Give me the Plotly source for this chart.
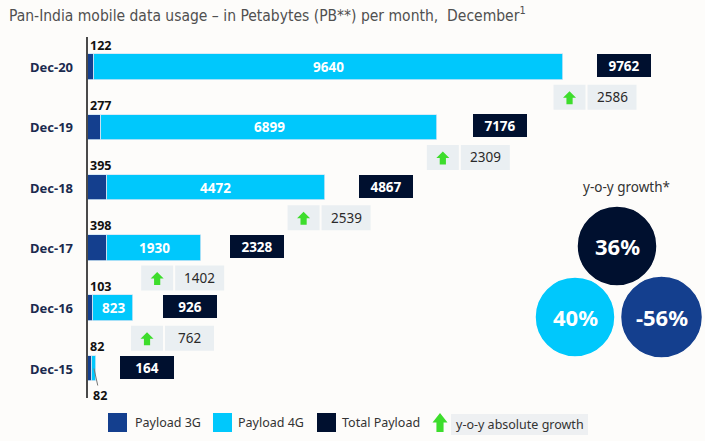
import plotly.graph_objects as go

# ---------------- data ----------------
years = ["Dec-20", "Dec-19", "Dec-18", "Dec-17", "Dec-16", "Dec-15"]
payload_3g = [122, 277, 395, 398, 103, 82]
payload_4g = [9640, 6899, 4472, 1930, 823, 82]
total_payload = [9762, 7176, 4867, 2328, 926, 164]
yoy_abs_growth = [2586, 2309, 2539, 1402, 762]   # Dec-20 ... Dec-16 vs previous year
growth_labels = ["36%", "40%", "-56%"]            # Total, 4G, 3G
title_text = "Pan-India mobile data usage – in Petabytes (PB**) per month,  December<sup>1</sup>"

# ---------------- styling / layout helpers ----------------
C3G = "#143f8e"
C4G = "#00c8fc"
CTOT = "#00102f"
CBOX = "#eaeff2"
CGREEN = "#3ddd2c"
BG = "#fdfcfa"
FONT = "Noto Sans"

W, H = 705, 441
SX = 0.04861          # pixels per PB
SY = 60.3             # pixels per row
X0PX, Y0PX = 88, 368.5


def X(px):
    return (px - X0PX) / SX


def Y(py):
    return (Y0PX - py) / SY


n = len(years)
rows = [n - 1 - i for i in range(n)]  # y positions, top row = Dec-20
bar_w = 25.5 / SY

fig = go.Figure()
fig.add_trace(go.Bar(y=rows, x=payload_3g, orientation="h", width=bar_w,
                     marker=dict(color=C3G, line=dict(color="#cfe6f5", width=0.8)),
                     hoverinfo="skip", showlegend=False))
fig.add_trace(go.Bar(y=rows, x=payload_4g, orientation="h", width=bar_w,
                     marker=dict(color=C4G, line=dict(color="#cfe6f5", width=0.8)),
                     hoverinfo="skip", showlegend=False))

shapes = []
ann = []

# axis line
shapes.append(dict(type="line", xref="x", yref="y", x0=X(87), x1=X(87), y0=Y(37), y1=Y(398),
                   line=dict(color="#4a4a4a", width=2)))

# title
ann.append(dict(x=X(7), y=Y(14), xref="x", yref="y", xanchor="left", yanchor="middle",
                text=title_text, showarrow=False,
                font=dict(family="Liberation Sans Narrow, DejaVu Sans Condensed, Open Sans", size=15.5, color="#505050")))

# gap (px) between bar end and the total box, per row (layout nudge)
total_box_gap_px = [34, 36, 34, 29, 30, 24]

for i in range(n):
    yc = rows[i]
    # category label
    ann.append(dict(x=X(75), y=yc, xref="x", yref="y", xanchor="right", yanchor="middle",
                    text="<b>%s</b>" % years[i], showarrow=False,
                    font=dict(family=FONT, size=13, color="#1b2a4e")))
    # 3G value above the bar
    ann.append(dict(x=0, y=yc + 22 / SY, xref="x", yref="y", xanchor="left", yanchor="middle",
                    text="<b>%d</b>" % payload_3g[i], showarrow=False,
                    font=dict(family=FONT, size=12.5, color="#111")))
    # 4G value
    seg_px = payload_4g[i] * SX
    if seg_px > 30:
        ann.append(dict(x=payload_3g[i] + payload_4g[i] / 2, y=yc, xref="x", yref="y",
                        text="<b>%d</b>" % payload_4g[i], showarrow=False,
                        font=dict(family=FONT, size=13.5, color="white")))
    else:
        ann.append(dict(x=payload_3g[i] + payload_4g[i] / 2, y=yc, xref="x", yref="y",
                        text="<b>%d</b>" % payload_4g[i], showarrow=True, arrowhead=0,
                        arrowwidth=1, arrowcolor="#777", ax=6, ay=27, standoff=0,
                        font=dict(family=FONT, size=12.5, color="#111")))
    # total box
    ann.append(dict(x=total_payload[i] + total_box_gap_px[i] / SX, y=yc + 1.5 / SY, xref="x", yref="y",
                    xanchor="left", yanchor="middle", text="<b>%d</b>" % total_payload[i],
                    showarrow=False, width=54, height=23, bgcolor=CTOT, borderpad=0, borderwidth=0,
                    font=dict(family=FONT, size=13.5, color="white")))


def arrow_path(cxp, cyp, w=13, h=13):
    # block arrow in pixel space -> data path
    hw = w / 2
    sw = w / 4.2
    pts = [(cxp, cyp - h / 2), (cxp + hw, cyp), (cxp + sw, cyp), (cxp + sw, cyp + h / 2),
           (cxp - sw, cyp + h / 2), (cxp - sw, cyp), (cxp - hw, cyp)]
    d = "M " + " L ".join("%f,%f" % (X(px), Y(py)) for px, py in pts) + " Z"
    return d


# growth boxes (horizontal nudge in px relative to the bar end of the upper row)
growth_nudge_px = [9, 10, 37, 60, 2]
for i, g in enumerate(yoy_abs_growth):
    end_px = X0PX + total_payload[i] * SX
    left = end_px - growth_nudge_px[i]
    cyp = Y0PX - (rows[i] - 0.5) * SY
    shapes.append(dict(type="rect", xref="x", yref="y", x0=X(left), x1=X(left + 32),
                       y0=Y(cyp + 12.5), y1=Y(cyp - 12.5), fillcolor=CBOX, line=dict(width=0)))
    shapes.append(dict(type="rect", xref="x", yref="y", x0=X(left + 34), x1=X(left + 83),
                       y0=Y(cyp + 12.5), y1=Y(cyp - 12.5), fillcolor=CBOX, line=dict(width=0)))
    shapes.append(dict(type="path", xref="x", yref="y", path=arrow_path(left + 16, cyp + 0.5),
                       fillcolor=CGREEN, line=dict(width=0)))
    ann.append(dict(x=X(left + 58.5), y=Y(cyp), xref="x", yref="y", text="%d" % g, showarrow=False,
                    font=dict(family=FONT, size=13.5, color="#2a2a2a")))

# legend
ly = 422.5
for (x0p, col, label, tx) in [(108, C3G, "Payload 3G", 133), (213, C4G, "Payload 4G", 236),
                              (317, CTOT, "Total Payload", 340)]:
    shapes.append(dict(type="rect", xref="x", yref="y", x0=X(x0p), x1=X(x0p + 19),
                       y0=Y(ly + 9.5), y1=Y(ly - 9.5), fillcolor=col, line=dict(width=0)))
    ann.append(dict(x=X(tx), y=Y(ly), xref="x", yref="y", xanchor="left", text=label,
                    showarrow=False, font=dict(family=FONT, size=12.5, color="#333")))
shapes.append(dict(type="path", xref="x", yref="y", path=arrow_path(440, ly, w=15, h=19),
                   fillcolor=CGREEN, line=dict(width=0)))
shapes.append(dict(type="rect", xref="x", yref="y", x0=X(451), x1=X(588), y0=Y(435), y1=Y(414),
                   fillcolor="#eef0f2", line=dict(width=0)))
ann.append(dict(x=X(519.5), y=Y(424.5), xref="x", yref="y", xanchor="center", yanchor="middle",
                text="y-o-y absolute growth", showarrow=False,
                font=dict(family=FONT, size=12.5, color="#333")))

# growth circles
ann.append(dict(x=X(626), y=Y(187), xref="x", yref="y", text="y-o-y growth*", showarrow=False,
                font=dict(family=FONT, size=13.5, color="#333")))
circles = [(617, 246, 40, CTOT, growth_labels[0]),
           (575, 317, 40, C4G, growth_labels[1]),
           (661.5, 317, 41, C3G, growth_labels[2])]
for cxp, cyp, r, col, lab in circles:
    shapes.append(dict(type="circle", xref="x", yref="y", x0=X(cxp - r), x1=X(cxp + r),
                       y0=Y(cyp + r), y1=Y(cyp - r), fillcolor=col, line=dict(color=BG, width=1.5)))
    ann.append(dict(x=X(cxp), y=Y(cyp), xref="x", yref="y", text="<b>%s</b>" % lab, showarrow=False,
                    font=dict(family=FONT, size=22, color="white")))

fig.update_layout(
    width=W, height=H, margin=dict(l=0, r=0, t=0, b=0),
    paper_bgcolor=BG, plot_bgcolor=BG, barmode="stack", bargap=0,
    xaxis=dict(range=[X(0), X(W)], visible=False, fixedrange=True),
    yaxis=dict(range=[Y(H), Y(0)], visible=False, fixedrange=True),
    shapes=shapes, annotations=ann, showlegend=False,
)

fig.write_html("out.html", config={"displayModeBar": False},
               post_script="document.body.style.margin='0';document.body.style.overflow='hidden';")
